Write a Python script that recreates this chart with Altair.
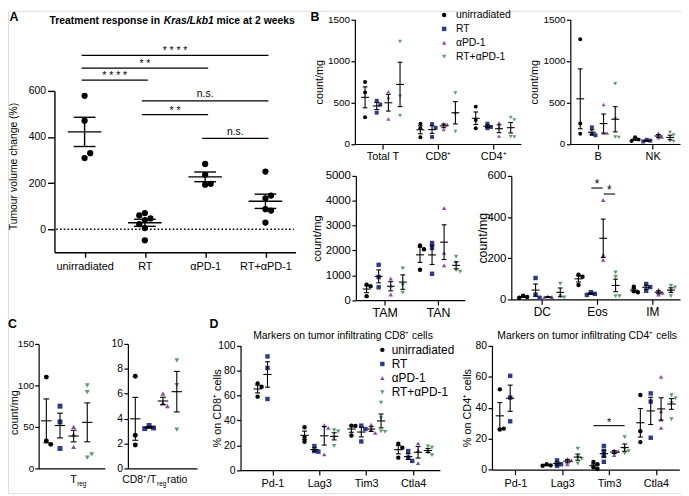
import json
import numpy as np
import pandas as pd
import altair as alt

W, H = 681, 488
M = 8                      # page margin; geometry below is given in page pixels
FONT = "Liberation Sans"

GROUPS = ["unirradiated", "RT", "αPD-1", "RT+αPD-1"]
GROUP_COLORS = ["#000000", "#2E3A8E", "#8C4B9F", "#5B9E6C"]
GROUP_SHAPES = ["circle", "square", "triangle-up", "triangle-down"]

# ---------------- Panel A: tumour volume change (%)
A_CATS = ["unirradiated", "RT", "αPD-1", "RT+αPD-1"]
A_UNIRRADIATED = [579, 471, 309, 330]
A_RT = [70, 47, 40, 60, 22, 5, -48]
A_APD1 = [283, 236, 193, 197]
A_RT_APD1 = [250, 134, 146, 87, 81, 29]
A_SIG_FROM = [0, 0, 0, 1, 1, 2]
A_SIG_TO = [3, 2, 1, 3, 2, 3]
A_SIG_LEVEL = [754, 699, 647, 557, 497, 394]
A_SIG_TEXT = ["* * * *", "* *", "* * * *", "n.s.", "* *", "n.s."]

# ---------------- Panel B (count/mg), one list per category
B1_CATS = ["Total T", "CD8⁺", "CD4⁺"]
B1_UNIRRADIATED = [[746, 619, 321], [243, 190, 80], [450, 290, 190]]
B1_RT = [[520, 476, 377], [240, 195, 85], [245, 205, 190]]
B1_APD1 = [[630, 560, 300], [245, 235, 175], [255, 200, 95]]
B1_RT_APD1 = [[1234, 576, 342], [615, 362, 151], [320, 290, 90, 85]]

B2_CATS = ["B", "NK"]
B2_UNIRRADIATED = [[1262, 246, 124], [80, 55, 35]]
B2_RT = [[200, 120, 105], [50, 40, 30]]
B2_APD1 = [[476, 131, 131], [130, 85, 75]]
B2_RT_APD1 = [[726, 300, 85, 80], [140, 110, 35, 30]]

B3_CATS = ["TAM", "TAN"]
B3_UNIRRADIATED = [[620, 560, 160], [2200, 2050, 1220]]
B3_RT = [[1420, 930, 517], [2300, 2100, 1060]]
B3_APD1 = [[863, 585, 227], [3700, 1900, 1400]]
B3_RT_APD1 = [[1280, 600, 300], [1750, 1500, 1200, 1150]]

B4_CATS = ["DC", "Eos", "IM"]
B4_UNIRRADIATED = [[18, 12, 8], [120, 110, 70], [62, 40, 35]]
B4_RT = [[104, 24, 8], [35, 27, 22], [75, 60, 42]]
B4_APD1 = [[15, 12, 8], [483, 216, 192], [48, 32, 24]]
B4_RT_APD1 = [[77, 16, 10], [131, 109, 16, 16], [67, 58, 40, 16]]

# ---------------- Panel C
C1_UNIRRADIATED = [110, 33, 29]
C1_RT = [75, 56, 24]
C1_APD1 = [50, 41, 26]
C1_RT_APD1 = [100, 92, 13, 17]
C2_UNIRRADIATED = [7.4, 2.67, 1.88]
C2_RT = [3.45, 3.25, 3.2]
C2_APD1 = [6.0, 5.25, 5.0]
C2_RT_APD1 = [8.68, 6.69, 3.12]

# ---------------- Panel D (% positive)
D_CATS = ["Pd-1", "Lag3", "Tim3", "Ctla4"]
D1_UNIRRADIATED = [[69.6, 66.9, 59.0], [34.4, 26.5, 22.8], [35.7, 35.5, 27.8], [21.2, 18.0, 10.0]]
D1_RT = [[91.3, 82.0, 57.1], [19.3, 15.3, 14.8], [35.7, 33.0, 23.0], [15.3, 10.0, 7.4]]
D1_APD1 = [[], [36.0, 33.9, 12.7], [36.5, 32.5, 29.9], [21.4, 15.9, 5.6]]
D1_RT_APD1 = [[], [32.0, 31.0, 26.0, 19.5], [54.2, 41.8, 31.2, 30.7], [19.0, 18.0, 14.0, 12.0]]

D2_UNIRRADIATED = [[51.8, 25.9, 26.5], [3.5, 2.8, 2.5], [5.0, 3.5, 1.5, 0.5], [48.2, 24.8, 17.8]]
D2_RT = [[60.5, 46.5, 31.2], [6.0, 3.5, 2.5], [15.3, 12.1, 8.9, 5.1], [49.2, 43.9, 20.6]]
D2_APD1 = [[], [7.0, 6.0, 3.5], [12.5, 12.0, 9.5], [59.8, 37.6, 32.3, 27.0]]
D2_RT_APD1 = [[], [13.5, 8.0, 7.0, 4.0], [21.0, 13.5, 12.0, 10.5], [48.0, 46.0, 43.0, 32.5]]


def f(v):
    return v - M


def spread(vals, ppu, dot):
    placed, offs = [], []
    for v in vals:
        yp = v * ppu
        for c in (0.0, 0.9 * dot, -0.9 * dot, 1.8 * dot, -1.8 * dot):
            if all(abs(yp - py) >= dot or abs(c - cx) >= 0.9 * dot for py, cx in placed):
                break
        placed.append((yp, c))
        offs.append(c)
    return offs


def panel(series, cats, g, sig=None, legend=None, zero_line=False):
    step = (g["xr"][1] - g["xr"][0]) / (g["xdom"][1] - g["xdom"][0])
    ppu = (g["yr"][0] - g["yr"][1]) / (g["ydom"][1] - g["ydom"][0])
    ng = g.get("ng", 4)

    def cx(ci, gi):
        return ci + (g.get("shift", 0) + (gi - (ng - 1) / 2) * g["gap"]) / step

    pts, segs = [], []
    for gi, (name, per_cat) in enumerate(series):
        for ci, vals in enumerate(per_cat):
            if not vals:
                continue
            c = cx(ci, gi)
            for v, o in zip(vals, spread(vals, ppu, g["dot"])):
                pts.append({"x": c + o / step, "y": v, "group": name})
            arr = np.asarray(vals, float)
            m = arr.mean()
            s = arr.std(ddof=1) / np.sqrt(len(arr))
            mh = g["mean_half"] / step
            ch = g["cap_half"] / step
            segs += [
                {"x": c - mh, "x2": c + mh, "y": m, "y2": m},
                {"x": c, "x2": c, "y": m - s, "y2": m + s},
                {"x": c - ch, "x2": c + ch, "y": m + s, "y2": m + s},
                {"x": c - ch, "x2": c + ch, "y": m - s, "y2": m - s},
            ]
    texts = []
    if sig:
        for (c1, g1, c2, g2, lvl, txt, pad, toff) in sig:
            x1 = cx(c1, g1) - pad / step
            x2 = cx(c2, g2) + pad / step
            segs.append({"x": x1, "x2": x2, "y": lvl, "y2": lvl})
            texts.append({"x": (x1 + x2) / 2, "y": lvl + toff / ppu, "t": txt})

    axw = g.get("axw", 1.2)
    xs = alt.Scale(domain=list(g["xdom"]), range=[f(g["xr"][0]), f(g["xr"][1])], nice=False, zero=False)
    ys = alt.Scale(domain=list(g["ydom"]), range=[f(g["yr"][0]), f(g["yr"][1])], nice=False, zero=False)
    xaxis = alt.Axis(
        orient="bottom", offset=f(g["yr"][0]) - H, values=list(range(len(cats))),
        labelExpr=json.dumps(cats, ensure_ascii=False) + "[datum.value]", title=None, grid=False,
        labels=g.get("xlabels", True), ticks=g.get("xticks", True), tickSize=g.get("xtick", 5),
        labelPadding=g.get("xpad", 2), labelFontSize=g.get("xlab_fs", 11), labelFont=FONT,
        labelColor="black", domainColor="black", tickColor="black", domainWidth=axw, tickWidth=axw,
        labelFlush=False, labelOverlap=False, labelAngle=0)
    yk = dict(orient="left", offset=-f(g["xr"][0]), values=g["yticks"], format="d", grid=False,
              tickSize=g.get("ytick", 4), labelPadding=g.get("ypad", 1.5), labelFontSize=g["tick_fs"],
              labelFont=FONT, labelColor="black", domainColor="black", tickColor="black",
              domainWidth=axw, tickWidth=axw, labelFlush=False, labelOverlap=False)
    if g.get("ytitle"):
        yk.update(title=g["ytitle"], titleFont=FONT, titleFontSize=g["ytitle_fs"], titleFontWeight="normal",
                  titleColor="black", titleAngle=270, titleBaseline="middle", titleAlign="center",
                  titleX=g["ytitle_x"] - g["xr"][0],
                  titleY=f(g.get("ytitle_y", (g["yr"][0] + g["yr"][1]) / 2)))
    else:
        yk.update(title=None)
    yaxis = alt.Axis(**yk)
    X = alt.X("x:Q", scale=xs, axis=xaxis)
    Y = alt.Y("y:Q", scale=ys, axis=yaxis)

    cs = alt.Scale(domain=GROUPS, range=GROUP_COLORS)
    ss = alt.Scale(domain=GROUPS, range=GROUP_SHAPES)
    layers = []
    if zero_line:
        zl = pd.DataFrame([{"x": g["xdom"][0] + 0.03, "x2": g["xdom"][1] - 0.03, "y": 0, "y2": 0}])
        layers.append(alt.Chart(zl).mark_rule(color="black", strokeWidth=1.6, strokeDash=[1.6, 2.2])
                      .encode(x=X, x2="x2:Q", y=Y, y2="y2:Q"))
    layers.append(
        alt.Chart(pd.DataFrame(pts)).mark_point(filled=True, size=g["size"], opacity=1, strokeWidth=0)
        .encode(x=X, y=Y,
                color=alt.Color("group:N", scale=cs, legend=legend),
                shape=alt.Shape("group:N", scale=ss, legend=legend)))
    layers.append(alt.Chart(pd.DataFrame(segs)).mark_rule(color="black", strokeWidth=g["lw"])
                  .encode(x=X, x2="x2:Q", y=Y, y2="y2:Q"))
    if texts:
        layers.append(alt.Chart(pd.DataFrame(texts)).mark_text(
            font=FONT, fontSize=g.get("sig_fs", 11), baseline="alphabetic", color="black")
            .encode(x=X, y=Y, text="t:N"))
    return alt.layer(*layers)


def make_legend(x, y, fs, size, row_pad, lab_off):
    return alt.Legend(orient="none", legendX=x, legendY=y, title=None, labelFont=FONT, labelFontSize=fs,
                      labelColor="black", symbolSize=size, symbolStrokeWidth=0, rowPadding=row_pad,
                      labelOffset=lab_off, padding=0, offset=0)


def label(text, x, y, size, weight="normal", style="normal", align="left"):
    return (alt.Chart(pd.DataFrame({"t": [text]}))
            .mark_text(font=FONT, fontSize=size, fontWeight=weight, fontStyle=style, align=align,
                       baseline="alphabetic", color="black")
            .encode(x=alt.value(x), y=alt.value(y), text="t:N"))


def grp(a, b, c, d):
    return list(zip(GROUPS, [a, b, c, d]))


# ---------------- geometry (page pixels)
A_GEO = dict(xr=(55, 299), xdom=(-0.5, 3.5), yr=(252.3, 89), ydom=(-100, 600), yticks=[0, 200, 400, 600],
             ng=1, gap=0, dot=6.3, size=40, mean_half=17, cap_half=11, lw=1.4, axw=1.4,
             ytitle="Tumour volume change (%)", ytitle_x=14, ytitle_y=165, ytitle_fs=10.5,
             tick_fs=10.5, xlab_fs=11, ytick=7, ypad=2, xtick=5, xpad=3, sig_fs=10.5)
B_COMMON = dict(dot=4, size=16, mean_half=4, cap_half=2.4, lw=1.1, ytitle="count/mg",
                ytick=4, ypad=1.5, xtick=5, xpad=2)
B1_GEO = dict(B_COMMON, xr=(359, 527), xdom=(-0.5, 2.5), yr=(142.7, 16.7), ydom=(0, 1500),
              yticks=[0, 500, 1000, 1500], gap=11.8, ytitle_x=323.3, ytitle_fs=11, tick_fs=10, xlab_fs=11)
B2_GEO = dict(B_COMMON, xr=(577, 688), xdom=(-0.5, 1.5), yr=(142.7, 16.7), ydom=(0, 1500),
              yticks=[0, 500, 1000, 1500], gap=11.8, ytitle_x=540.7, ytitle_fs=11, tick_fs=10, xlab_fs=11)
B3_GEO = dict(B_COMMON, xr=(360, 470.2), xdom=(-0.54, 1.5), yr=(300.7, 175), ydom=(0, 5000),
              yticks=[0, 1000, 2000, 3000, 4000, 5000], gap=12.2, dot=4.5, size=20,
              ytitle_x=321.7, ytitle_fs=11.5, tick_fs=11.5, xlab_fs=12.5)
B4_GEO = dict(B_COMMON, xr=(517.3, 688), xdom=(-0.55, 2.5), yr=(300, 175), ydom=(0, 600),
              yticks=[0, 200, 400, 600], gap=12.5, dot=4.5, size=20,
              ytitle_x=488.3, ytitle_fs=12.5, tick_fs=11.5, xlab_fs=12, sig_fs=12)
C1_GEO = dict(xr=(39, 106), xdom=(-0.5, 0.5), yr=(471, 345), ydom=(0, 150), yticks=[0, 50, 100, 150],
              gap=13.8, shift=-5, dot=5, size=25, mean_half=5.3, cap_half=3, lw=1.1,
              ytitle="count/mg", ytitle_x=14.2, ytitle_y=414, ytitle_fs=11, tick_fs=10, ypad=1,
              xlabels=False, xticks=False)
C2_GEO = dict(xr=(129.3, 199.3), xdom=(-0.5, 0.5), yr=(471, 345), ydom=(0, 10), yticks=[0, 2, 4, 6, 8, 10],
              gap=14, shift=-6.5, dot=5, size=25, mean_half=5.3, cap_half=3, lw=1.1,
              tick_fs=10.5, xlabels=False, xticks=False)
D1_GEO = dict(xr=(243.3, 445), xdom=(-0.68, 3.57), yr=(472.7, 346.7), ydom=(0, 100),
              yticks=[0, 20, 40, 60, 80, 100], gap=10, dot=4.5, size=20, mean_half=4.2, cap_half=2.5, lw=1.1,
              ytitle="% on CD8⁺ cells", ytitle_x=220, ytitle_fs=11, tick_fs=10.5, xlab_fs=11,
              ytick=4, ypad=1.5, xtick=5, xpad=3)
D2_GEO = dict(xr=(497.7, 687.3), xdom=(-0.5, 3.5), yr=(472.3, 346.7), ydom=(0, 80),
              yticks=[0, 20, 40, 60, 80], gap=10.5, dot=4.5, size=20, mean_half=4.2, cap_half=2.5, lw=1.1,
              ytitle="% on CD4⁺ cells", ytitle_x=473, ytitle_fs=11, tick_fs=10.5, xlab_fs=11,
              ytick=4, ypad=1.5, xtick=5, xpad=3, sig_fs=11)

a_sig = [(fr, 0, to, 0, lvl, txt, 3, (1 if "*" in txt else 3.5))
         for fr, to, lvl, txt in zip(A_SIG_FROM, A_SIG_TO, A_SIG_LEVEL, A_SIG_TEXT)]
b4_sig = [(1, 1, 1, 2, 541, "*", -0.5, 0), (1, 2, 1, 3, 512, "*", -0.5, 0)]
d2_sig = [(2, 0, 2, 3, 28.4, "*", 0, 0)]

panel_a = panel([("unirradiated", [A_UNIRRADIATED, A_RT, A_APD1, A_RT_APD1])], A_CATS, A_GEO,
                sig=a_sig, zero_line=True)
panel_b1 = panel(grp(B1_UNIRRADIATED, B1_RT, B1_APD1, B1_RT_APD1), B1_CATS, B1_GEO,
                 legend=make_legend(f(444.1), -1, 10.5, 20, 3, 6.7))
panel_b2 = panel(grp(B2_UNIRRADIATED, B2_RT, B2_APD1, B2_RT_APD1), B2_CATS, B2_GEO)
panel_b3 = panel(grp(B3_UNIRRADIATED, B3_RT, B3_APD1, B3_RT_APD1), B3_CATS, B3_GEO)
panel_b4 = panel(grp(B4_UNIRRADIATED, B4_RT, B4_APD1, B4_RT_APD1), B4_CATS, B4_GEO, sig=b4_sig)
panel_c1 = panel(grp([C1_UNIRRADIATED], [C1_RT], [C1_APD1], [C1_RT_APD1]), ["Treg"], C1_GEO)
panel_c2 = panel(grp([C2_UNIRRADIATED], [C2_RT], [C2_APD1], [C2_RT_APD1]), ["ratio"], C2_GEO)
panel_d1 = panel(grp(D1_UNIRRADIATED, D1_RT, D1_APD1, D1_RT_APD1), D_CATS, D1_GEO,
                 legend=make_legend(f(380.8), f(345), 12, 20, 2.3, 3.5))
panel_d2 = panel(grp(D2_UNIRRADIATED, D2_RT, D2_APD1, D2_RT_APD1), D_CATS, D2_GEO, sig=d2_sig)

annotations = [
    label("A", f(9.5), f(18.5), 12.5, weight="bold"),
    label("B", f(314), f(18), 12.5, weight="bold"),
    label("C", f(8), f(329), 12.5, weight="bold"),
    label("D", f(212), f(329), 12.5, weight="bold"),
    label("Treatment response in", f(50), f(21), 10.5, weight="bold"),
    label("Kras/Lkb1", f(165.5), f(21), 10.5, weight="bold", style="italic"),
    label("mice at 2 weeks", f(219), f(21), 10.5, weight="bold"),
    label("Markers on tumor infiltrating CD8⁺ cells", f(347), f(340), 10.5, align="center"),
    label("Markers on tumor infiltrating CD4⁺ cells", f(594), f(340), 10.5, align="center"),
    label("T", f(71), f(486), 11),
    label("reg", f(78), f(489), 6.5),
    label("CD8⁺/T", f(158), f(486), 10.5, align="right"),
    label("reg", f(158.8), f(489), 6.5),
    label("ratio", f(169), f(486), 10.5),
]

chart = (
    alt.layer(panel_a, panel_b1, panel_b2, panel_b3, panel_b4, panel_c1, panel_c2, panel_d1, panel_d2,
              *annotations)
    .resolve_scale(x="independent", y="independent", color="independent", shape="independent")
    .resolve_axis(x="independent", y="independent")
    .resolve_legend(color="independent", shape="independent")
    .properties(width=W, height=H, padding=0, autosize=alt.AutoSizeParams(type="none"))
    .configure_view(stroke=None)
    .configure_axis(domainColor="black", tickColor="black", labelColor="black", titleColor="black")
    .configure(font=FONT)
)

chart.save("out.html", embed_options={"renderer": "svg", "actions": False})
